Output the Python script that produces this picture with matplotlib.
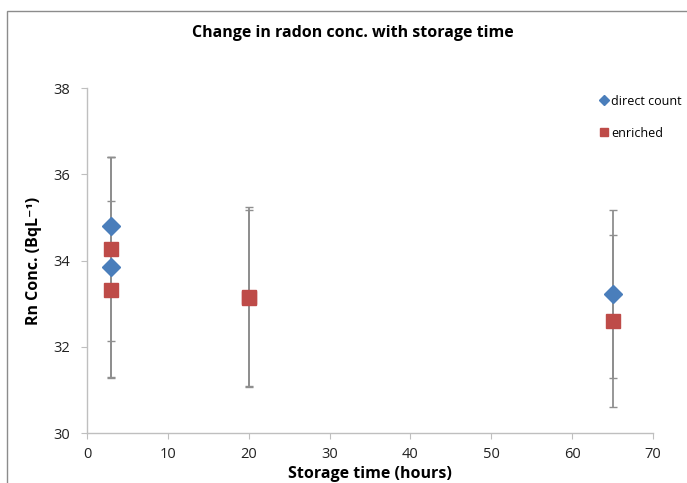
import matplotlib.pyplot as plt
from matplotlib.patches import Rectangle

# storage time (hours) and radon concentration (Bq/L) with +/- errors
direct_time = [3, 3, 65]
direct_conc = [34.80, 33.85, 33.22]
direct_err = [1.60, 2.55, 1.95]

enriched_time = [3, 3, 20, 20, 65]
enriched_conc = [34.27, 33.32, 33.15, 33.13, 32.60]
enriched_err = [2.14, 2.05, 2.08, 2.05, 2.00]

x_ticks = [0, 10, 20, 30, 40, 50, 60, 70]
y_ticks = [30, 32, 34, 36, 38]

plt.rcParams["font.family"] = ["Open Sans", "DejaVu Sans"]

fig = plt.figure(figsize=(6.87, 4.83), dpi=100)
ax = fig.add_axes([0.1266, 0.1035, 0.8239, 0.7143])

# chart frame, cut off at the right and bottom edges
fig.patches.append(Rectangle((7 / 687, -0.1), 1.2, 1 - 11 / 483 + 0.1,
                             transform=fig.transFigure, fill=False,
                             edgecolor="#8c8c8c", linewidth=1.0))

err_style = dict(fmt="none", ecolor="#8f8f8f", elinewidth=1.3, capsize=3,
                 capthick=1.0, zorder=2)
ax.errorbar(direct_time, direct_conc, yerr=direct_err, **err_style)
ax.errorbar(enriched_time, enriched_conc, yerr=enriched_err, **err_style)

ax.plot(direct_time, direct_conc, linestyle="none", marker="D", markersize=9,
        color="#4a7ebb", markeredgecolor="#4a7ebb", label="direct count", zorder=3)
ax.plot(enriched_time, enriched_conc, linestyle="none", marker="s",
        markersize=10, color="#be4b48", markeredgecolor="#be4b48",
        label="enriched", zorder=4)

ax.set_xlim(0, 70)
ax.set_ylim(30, 38)
ax.set_xticks(x_ticks)
ax.set_yticks(y_ticks)
ax.tick_params(axis="both", labelsize=10.5, color="#bfbfbf", length=4,
               direction="out", labelcolor="#222222")
ax.tick_params(axis="x", pad=6)
ax.tick_params(axis="y", pad=8)

for side in ["top", "right"]:
    ax.spines[side].set_visible(False)
for side in ["left", "bottom"]:
    ax.spines[side].set_color("#bfbfbf")
    ax.spines[side].set_linewidth(1.0)

ax.set_xlabel("Storage time (hours)", fontsize=11.5, fontweight="bold", labelpad=3)
ax.set_ylabel("Rn Conc. (BqL⁻¹)", fontsize=11.5, fontweight="bold", labelpad=8)
fig.text(0.514, 0.932, "Change in radon conc. with storage time", ha="center",
         va="center", fontsize=11.5, fontweight="bold")

ax.legend(loc="upper left", bbox_to_anchor=(0.853, 0.827),
          bbox_transform=fig.transFigure, frameon=False, fontsize=9,
          handletextpad=0.1, handlelength=1.0, labelspacing=1.5,
          markerscale=0.6)

fig.savefig("out.png", dpi=100)
